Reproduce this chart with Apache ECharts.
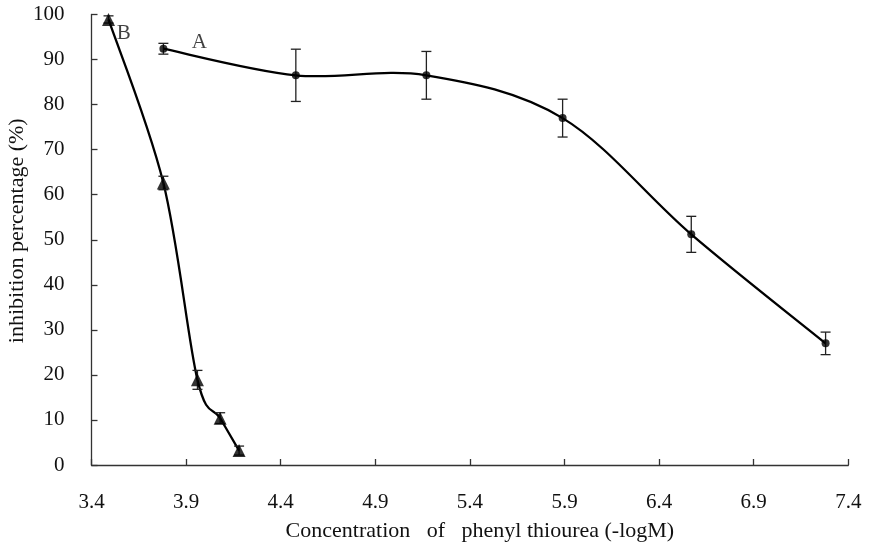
<!DOCTYPE html>
<html>
<head>
<meta charset="utf-8">
<script src="https://cdn.jsdelivr.net/npm/echarts@6/dist/echarts.min.js"></script>
<style>
html,body{margin:0;padding:0;background:#fff;}
#chart{width:869px;height:552px;}
</style>
</head>
<body>
<div id="chart"></div>
<script>
// Series A (circles)
var xA = [3.78, 4.48, 5.17, 5.89, 6.57, 7.28];
var yA = [92.4, 86.5, 86.5, 77.0, 51.2, 27.0];
var errA = [1.2, 5.8, 5.3, 4.2, 4.0, 2.5];
// Series B (triangles)
var xB = [3.49, 3.78, 3.96, 4.08, 4.18];
var yB = [98.9, 62.6, 18.9, 10.4, 3.2];
var errB = [0.8, 1.5, 2.1, 1.2, 1.0];
// Curve labels
var labelNames = ['B', 'A'];
var labelX = [3.57, 3.97];
var labelY = [95.8, 93.8];
// Axis
var xTicks = [3.4, 3.9, 4.4, 4.9, 5.4, 5.9, 6.4, 6.9, 7.4];
var yTicks = [0, 10, 20, 30, 40, 50, 60, 70, 80, 90, 100];

var FONT = '"Liberation Serif", "DejaVu Serif", serif';

function pairs(xs, ys) { return xs.map(function (x, i) { return [x, ys[i]]; }); }
function errData(xs, ys, es) { return xs.map(function (x, i) { return [x, ys[i], es[i]]; }); }

function errRender(params, api) {
  var x = api.value(0), y = api.value(1), e = api.value(2);
  var top = api.coord([x, y + e]);
  var bot = api.coord([x, y - e]);
  var hw = 5;
  var st = { stroke: '#222', lineWidth: 1.3 };
  return {
    type: 'group',
    children: [
      { type: 'line', shape: { x1: top[0], y1: top[1], x2: bot[0], y2: bot[1] }, style: st },
      { type: 'line', shape: { x1: top[0] - hw, y1: top[1], x2: top[0] + hw, y2: top[1] }, style: st },
      { type: 'line', shape: { x1: bot[0] - hw, y1: bot[1], x2: bot[0] + hw, y2: bot[1] }, style: st }
    ]
  };
}

// Smooth (Catmull-Rom style) curve segment between consecutive data points
function curveRender(xs, ys) {
  return function (params, api) {
    var n = xs.length, i = params.dataIndex;
    if (i >= n - 1) return null;
    function p(k) { k = Math.max(0, Math.min(n - 1, k)); return api.coord([xs[k], ys[k]]); }
    var p0 = p(i - 1), p1 = p(i), p2 = p(i + 1), p3 = p(i + 2);
    var t = 6;
    return {
      type: 'bezierCurve',
      shape: {
        x1: p1[0], y1: p1[1], x2: p2[0], y2: p2[1],
        cpx1: p1[0] + (p2[0] - p0[0]) / t, cpy1: p1[1] + (p2[1] - p0[1]) / t,
        cpx2: p2[0] - (p3[0] - p1[0]) / t, cpy2: p2[1] - (p3[1] - p1[1]) / t
      },
      style: { stroke: '#000', lineWidth: 2.3, fill: null }
    };
  };
}

var chart = echarts.init(document.getElementById('chart'));
chart.setOption({
  animation: false,
  backgroundColor: '#fff',
  grid: { left: 91.5, right: 20.7, top: 14.5, bottom: 87, containLabel: false, outerBoundsMode: 'none' },
  xAxis: {
    type: 'value', min: 3.4, max: 7.4, interval: 0.5,
    name: 'Concentration   of   phenyl thiourea (-logM)',
    nameLocation: 'middle', nameGap: 55,
    nameTextStyle: { fontFamily: FONT, fontSize: 22, color: '#111', padding: [0, 0, 0, 20] },
    axisLine: { lineStyle: { color: '#333', width: 1.3 } },
    axisTick: { inside: true, length: 6, lineStyle: { color: '#333', width: 1.3 } },
    axisLabel: {
      fontFamily: FONT, fontSize: 21, color: '#111', margin: 27,
      formatter: function (v) { return v.toFixed(1); }
    },
    splitLine: { show: false }
  },
  yAxis: {
    type: 'value', min: 0, max: 100, interval: 10,
    name: 'inhibition percentage (%)',
    nameLocation: 'middle', nameGap: 63, nameRotate: 90, nameMoveOverlap: false,
    nameTextStyle: { fontFamily: FONT, fontSize: 22, color: '#111', padding: [0, 0, 0, 18] },
    axisLine: { show: true, lineStyle: { color: '#333', width: 1.3 } },
    axisTick: { show: true, inside: true, length: 6, lineStyle: { color: '#333', width: 1.3 } },
    axisLabel: { fontFamily: FONT, fontSize: 21, color: '#111', margin: 27 },
    splitLine: { show: false }
  },
  series: [
    {
      type: 'custom', name: 'curveA', data: pairs(xA, yA),
      renderItem: curveRender(xA, yA), z: 2, encode: { x: 0, y: 1 }, silent: true
    },
    {
      type: 'custom', name: 'curveB', data: pairs(xB, yB),
      renderItem: curveRender(xB, yB), z: 2, encode: { x: 0, y: 1 }, silent: true
    },
    {
      type: 'custom', name: 'errA', data: errData(xA, yA, errA),
      renderItem: errRender, z: 2, encode: { x: 0, y: 1 }
    },
    {
      type: 'custom', name: 'errB', data: errData(xB, yB, errB),
      renderItem: errRender, z: 2, encode: { x: 0, y: 1 }
    },
    {
      type: 'scatter', name: 'A', data: pairs(xA, yA),
      symbol: 'circle', symbolSize: 8, itemStyle: { color: '#000' }, z: 3
    },
    {
      type: 'scatter', name: 'B', data: pairs(xB, yB),
      symbol: 'triangle', symbolSize: 13, itemStyle: { color: '#000' }, z: 3
    },
    {
      type: 'scatter', name: 'labels', symbolSize: 0,
      data: labelNames.map(function (n, i) { return { name: n, value: [labelX[i], labelY[i]] }; }),
      label: {
        show: true, position: 'inside', formatter: '{b}',
        fontFamily: FONT, fontSize: 21, color: '#111'
      },
      silent: true
    }
  ]
});
</script>
</body>
</html>
